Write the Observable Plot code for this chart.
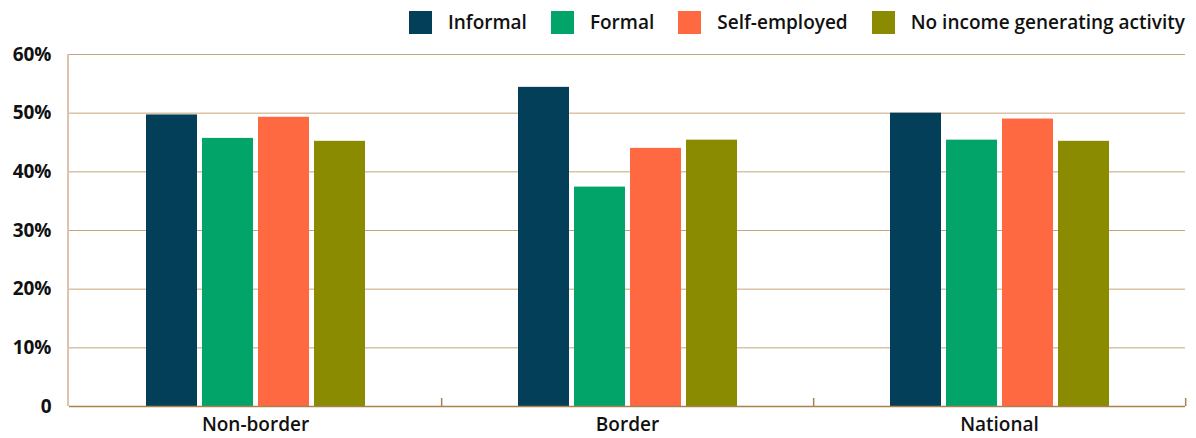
<!DOCTYPE html>
<html><head><meta charset="utf-8">
<script src="https://cdn.jsdelivr.net/npm/d3@7"></script>
<script src="https://cdn.jsdelivr.net/npm/@observablehq/plot@0.6"></script>
<style>
html,body{margin:0;padding:0;background:#fff;}
body{width:1196px;height:438px;overflow:hidden;font-family:"Open Sans",sans-serif;}
#legend{height:36px;display:flex;justify-content:flex-end;align-items:flex-start;padding:11px 11px 0 0;box-sizing:border-box;}
.item{display:flex;align-items:center;margin-left:24px;font-size:19px;line-height:23px;font-weight:600;color:#111;}
.sw{width:23px;height:23px;margin-right:16px;}
</style></head>
<body>
<div id="legend"></div>
<div id="chart"></div>
<script>
const groups = ["Non-border", "Border", "National"];
const series = ["Informal", "Formal", "Self-employed", "No income generating activity"];
const informal = [49.7, 54.4, 50.0];
const formal = [45.7, 37.4, 45.4];
const selfEmployed = [49.3, 44.0, 49.0];
const noIncome = [45.2, 45.4, 45.2];
const colors = ["#043f5a", "#02a46a", "#fe6942", "#8a8b01"];
const yTicks = [0, 10, 20, 30, 40, 50, 60];

const valuesBySeries = [informal, formal, selfEmployed, noIncome];
const data = [];
groups.forEach((g, gi) => series.forEach((s, si) => data.push({group: g, series: s, value: valuesBySeries[si][gi]})));

const legend = d3.select("#legend");
series.forEach((s, i) => {
  const it = legend.append("div").attr("class", "item");
  it.append("div").attr("class", "sw").style("background", colors[i]);
  it.append("span").text(s);
});

const W = 1196, H = 402, mL = 68, mR = 11, mT = 18, mB = 32;
const plot = Plot.plot({
  width: W, height: H,
  marginLeft: mL, marginRight: mR, marginTop: mT, marginBottom: mB,
  style: {fontFamily: "Open Sans, sans-serif", fontSize: "19px", fontWeight: 700, color: "#111", background: "#fff"},
  fx: {domain: groups, padding: 0},
  x: {domain: series, paddingInner: 0.09, paddingOuter: 1.31},
  y: {domain: [0, 60]},
  color: {domain: series, range: colors},
  marks: [
    Plot.ruleY(yTicks.filter(d => d > 0), {stroke: "#c8a57c", strokeWidth: 1}),
    Plot.barY(data, {fx: "group", x: "series", y: "value", fill: "series"}),
    Plot.ruleY([0], {stroke: "#a8814f", strokeWidth: 1.5}),
    Plot.axisY({ticks: yTicks, tickFormat: d => d === 0 ? "0" : d + "%", tickSize: 0, tickPadding: 18, label: null, fontWeight: 700, fill: "#111"}),
    Plot.axisFx({anchor: "bottom", tickSize: 0, tickPadding: 11, label: null, fontWeight: 600, fill: "#111"}),
    Plot.axisFx({anchor: "bottom", tickSize: 8, dy: -8, dx: (W - mL - mR) / groups.length / 2, tickFormat: () => "", label: null, stroke: "#a8814f", strokeWidth: 1.5}),
    Plot.axisX({ticks: [], label: null})
  ]
});
document.getElementById("chart").appendChild(plot);

// left axis line drawn with the plot's y scale
const ys = plot.scale("y");
d3.select(plot).append("line")
  .attr("x1", mL).attr("x2", mL)
  .attr("y1", ys.apply(60)).attr("y2", ys.apply(0))
  .attr("stroke", "#cfb08c").attr("stroke-width", 1.5);
</script>
</body></html>
